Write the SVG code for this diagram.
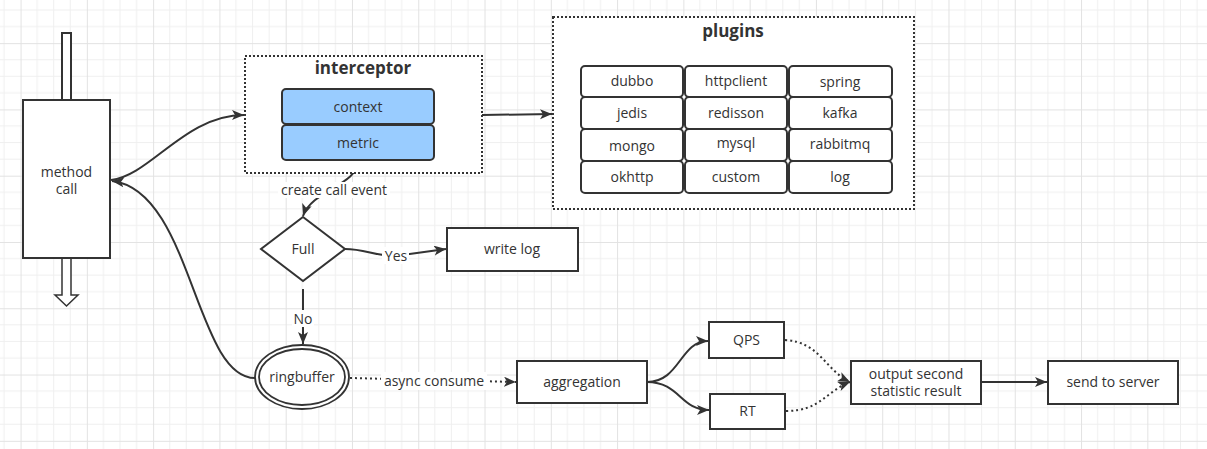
<svg xmlns="http://www.w3.org/2000/svg" width="1207" height="449" viewBox="0 0 1207 449">
<style>
.t{font-family:"Open Sans","Noto Sans","Liberation Sans",sans-serif;font-size:14px;fill:#333;text-anchor:middle}
.b{font-family:"Open Sans","Noto Sans","Liberation Sans",sans-serif;font-size:17px;font-weight:bold;fill:#333;text-anchor:middle}
.box{fill:#fff;stroke:#333;stroke-width:2}
.cell{fill:#fff;stroke:#333;stroke-width:2}
.blue{fill:#99ccff;stroke:#333;stroke-width:2}
.grp{fill:#fff;stroke:#333;stroke-width:2;stroke-dasharray:2 2}
.ln{fill:none;stroke:#333;stroke-width:2}
.dot{fill:none;stroke:#333;stroke-width:2;stroke-dasharray:2 3}
.lbl{fill:#fff}
</style>
<defs>
<pattern id="grid" patternUnits="userSpaceOnUse" x="20.57" y="43.14" width="66.28" height="66.28">
<path d="M16.57 0V66.28M33.14 0V66.28M49.71 0V66.28M0 16.57H66.28M0 33.14H66.28M0 49.71H66.28" stroke="#efefef" stroke-width="1" fill="none"/>
<path d="M0.5 0V66.28M0 0.5H66.28" stroke="#e2e2e2" stroke-width="1" fill="none"/>
</pattern>
<marker id="ah" markerUnits="userSpaceOnUse" markerWidth="14" markerHeight="12" refX="12" refY="5" orient="auto" viewBox="0 0 14 12">
<path d="M0,0 L12,5 L0,10 L3,5 z" fill="#333"/>
</marker>
</defs>
<rect width="1207" height="449" fill="#fff"/>
<rect width="1207" height="449" fill="url(#grid)"/>

<g id="connectors">
<path class="ln" d="M111,180 C150,176 185,115 244,115" marker-end="url(#ah)"/>
<path class="ln" d="M255,378 C195,378 192,190 112,181" marker-end="url(#ah)"/>
<path class="ln" d="M482,115 L552,114" marker-end="url(#ah)"/>
<path class="ln" d="M358,161 C358,185 312,190 303,216" marker-end="url(#ah)"/>
<rect class="lbl" x="278" y="182" width="112" height="16"/>
<text class="t" x="334" y="195">create call event</text>
<path class="ln" d="M345,249 C365,249 375,256 395,256 L446,249" marker-end="url(#ah)"/>
<rect class="lbl" x="382" y="247" width="27" height="17"/>
<text class="t" x="396" y="261">Yes</text>
<path class="ln" d="M303,289 L303,344" marker-end="url(#ah)"/>
<rect class="lbl" x="292" y="310" width="22" height="17"/>
<text class="t" x="303" y="324">No</text>
<path class="dot" d="M350,378 L516,382" marker-end="url(#ah)"/>
<rect class="lbl" x="381" y="372" width="106" height="18"/>
<text class="t" x="434" y="386">async consume</text>
<path class="ln" d="M647,382 C680,382 680,341 708,341" marker-end="url(#ah)"/>
<path class="ln" d="M647,382 C680,382 680,410 709,410" marker-end="url(#ah)"/>
<path class="dot" d="M785,340 C820,342 825,370 850,382" marker-end="url(#ah)"/>
<path class="dot" d="M786,411 C820,411 825,392 850,382" marker-end="url(#ah)"/>
<path class="ln" d="M981,382 L1047,382" marker-end="url(#ah)"/>
</g>

<g id="method-call">
<rect x="62" y="33" width="9" height="67" fill="#fff" stroke="#333" stroke-width="2"/>
<path d="M62,258 L62,295 L55,295 L66.5,306 L78,295 L71,295 L71,258" fill="#fff" stroke="#333" stroke-width="1.5"/>
<rect class="box" x="23" y="100" width="87" height="158"/>
<text class="t" x="66.5" y="177">method</text>
<text class="t" x="66.5" y="194">call</text>
</g>

<g id="interceptor">
<rect class="grp" x="245" y="56" width="237" height="117"/>
<text class="b" x="363" y="74">interceptor</text>
</g>
<g id="context">
<rect class="blue" x="282" y="89" width="152" height="35" rx="4"/>
<text class="t" x="358" y="112">context</text>
</g>
<g id="metric">
<rect class="blue" x="282" y="125" width="152" height="35" rx="4"/>
<text class="t" x="358" y="148">metric</text>
</g>

<g id="plugins">
<rect class="grp" x="553" y="17" width="361" height="192"/>
<text class="b" x="733" y="37">plugins</text>
</g>
<g id="p-dubbo"><rect class="cell" x="581" y="66" width="102" height="31" rx="4"/><text class="t" x="632" y="86">dubbo</text></g>
<g id="p-httpclient"><rect class="cell" x="685" y="66" width="102" height="31" rx="4"/><text class="t" x="736" y="86">httpclient</text></g>
<g id="p-spring"><rect class="cell" x="789" y="66" width="103" height="31" rx="4"/><text class="t" x="840" y="87">spring</text></g>
<g id="p-jedis"><rect class="cell" x="581" y="97" width="102" height="32" rx="4"/><text class="t" x="632" y="118">jedis</text></g>
<g id="p-redisson"><rect class="cell" x="685" y="97" width="102" height="32" rx="4"/><text class="t" x="736" y="118">redisson</text></g>
<g id="p-kafka"><rect class="cell" x="789" y="97" width="103" height="32" rx="4"/><text class="t" x="840" y="118">kafka</text></g>
<g id="p-mongo"><rect class="cell" x="581" y="129" width="102" height="32" rx="4"/><text class="t" x="632" y="151">mongo</text></g>
<g id="p-mysql"><rect class="cell" x="685" y="129" width="102" height="32" rx="4"/><text class="t" x="736" y="148">mysql</text></g>
<g id="p-rabbitmq"><rect class="cell" x="789" y="129" width="103" height="32" rx="4"/><text class="t" x="840" y="149">rabbitmq</text></g>
<g id="p-okhttp"><rect class="cell" x="581" y="161" width="102" height="32" rx="4"/><text class="t" x="632" y="182">okhttp</text></g>
<g id="p-custom"><rect class="cell" x="685" y="161" width="102" height="32" rx="4"/><text class="t" x="736" y="182">custom</text></g>
<g id="p-log"><rect class="cell" x="789" y="161" width="103" height="32" rx="4"/><text class="t" x="840" y="182">log</text></g>

<g id="full">
<path class="box" d="M303,217 L345,249 L303,281 L261,249 Z"/>
<text class="t" x="303" y="254">Full</text>
</g>
<g id="write-log">
<rect class="box" x="447" y="228" width="131" height="43"/>
<text class="t" x="512" y="254">write log</text>
</g>
<g id="ringbuffer">
<ellipse cx="302" cy="377" rx="47" ry="32" fill="#fff" stroke="#333" stroke-width="1.8"/>
<ellipse cx="302" cy="377" rx="43" ry="28" fill="none" stroke="#333" stroke-width="1.8"/>
<text class="t" x="302" y="382">ringbuffer</text>
</g>
<g id="aggregation">
<rect class="box" x="517" y="361" width="130" height="42"/>
<text class="t" x="582" y="387">aggregation</text>
</g>
<g id="qps">
<rect class="box" x="709" y="322" width="75" height="36"/>
<text class="t" x="746.5" y="345">QPS</text>
</g>
<g id="rt">
<rect class="box" x="710" y="394" width="75" height="35"/>
<text class="t" x="747.5" y="416">RT</text>
</g>
<g id="output">
<rect class="box" x="851" y="361" width="130" height="43"/>
<text class="t" x="916" y="379">output second</text>
<text class="t" x="916" y="396">statistic result</text>
</g>
<g id="send">
<rect class="box" x="1048" y="361" width="130" height="43"/>
<text class="t" x="1113" y="387">send to server</text>
</g>
</svg>
